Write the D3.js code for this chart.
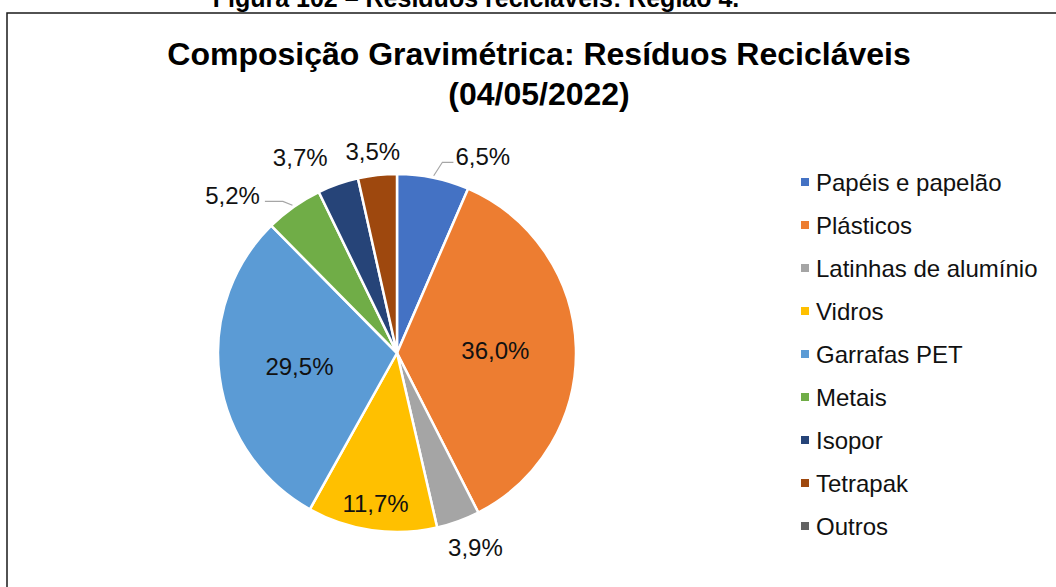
<!DOCTYPE html>
<html>
<head>
<meta charset="utf-8">
<script src="https://cdn.jsdelivr.net/npm/d3@7"></script>
<style>
  html, body { margin: 0; padding: 0; background: #fff; }
  svg { display: block; font-family: "Liberation Sans", Arial, sans-serif; }
</style>
</head>
<body>
<svg id="chart" width="1056" height="587"></svg>
<script>
'use strict';

const caption = 'Figura 102 – Resíduos recicláveis: Região 4.';
const titleLines = ['Composição Gravimétrica: Resíduos Recicláveis', '(04/05/2022)'];

const categories = [
  'Papéis e papelão',
  'Plásticos',
  'Latinhas de alumínio',
  'Vidros',
  'Garrafas PET',
  'Metais',
  'Isopor',
  'Tetrapak',
  'Outros',
];
const values = [6.5, 36.0, 3.9, 11.7, 29.5, 5.2, 3.7, 3.5, 0];
const colors = [
  '#4472C4', '#ED7D31', '#A5A5A5', '#FFC000', '#5B9BD5',
  '#70AD47', '#264478', '#9E480E', '#636363',
];

// labels that excel pushed away from their slice (px)
const labelNudge = {
  'Papéis e papelão': [41, 2],
  'Latinhas de alumínio': [3, 4],
  'Isopor': [-24, -4],
  'Metais': [-37, 8],
};

const W = 1056;
const H = 587;
const cx = 397;
const cy = 353;
const r = 179;

const ptBR = d3.formatLocale({
  decimal: ',',
  thousands: '.',
  grouping: [3],
  currency: ['R$', ''],
});
const fmt = (v) => ptBR.format('.1f')(v) + '%';

const svg = d3.select('#chart');

// page caption (cut off at the top)
svg
  .append('text')
  .attr('x', 476)
  .attr('y', 7)
  .attr('text-anchor', 'middle')
  .style('font-size', '25px')
  .style('font-weight', 'bold')
  .text(caption);

// chart border
svg
  .append('rect')
  .attr('x', 7)
  .attr('y', 13)
  .attr('width', W + 20)
  .attr('height', H + 20)
  .attr('fill', 'none')
  .attr('stroke', '#1a1a1a')
  .attr('stroke-width', 1.5);

svg
  .selectAll('.title')
  .data(titleLines)
  .enter()
  .append('text')
  .attr('class', 'title')
  .attr('x', 539)
  .attr('y', (d, i) => 65 + i * 40)
  .attr('text-anchor', 'middle')
  .style('font-size', '32px')
  .style('font-weight', 'bold')
  .style('fill', '#000')
  .text((d) => d);

const pie = d3
  .pie()
  .sort(null)
  .value((d) => d.value);

const data = categories.map((c, i) => ({ cat: c, value: values[i], color: colors[i] }));
const arcs = pie(data);

const arc = d3.arc().innerRadius(0).outerRadius(r);

const g = svg.append('g').attr('transform', `translate(${cx},${cy})`);

g.selectAll('path.slice')
  .data(arcs.filter((d) => d.data.value > 0))
  .enter()
  .append('path')
  .attr('class', 'slice')
  .attr('d', arc)
  .attr('fill', (d) => d.data.color)
  .attr('stroke', '#fff')
  .attr('stroke-width', 2.5)
  .attr('stroke-linejoin', 'round');

const labelSize = 24;
const labels = g.append('g').style('font-size', labelSize + 'px').style('fill', '#111');

arcs
  .filter((d) => d.data.value > 0)
  .forEach((d) => {
    const mid = (d.startAngle + d.endAngle) / 2;
    const text = fmt(d.data.value);
    const t = labels.append('text').attr('text-anchor', 'middle').attr('dy', '0.36em').text(text);
    const w = t.node().getComputedTextLength();
    const h = labelSize * 0.8;
    let x, y;
    if (d.data.value > 10) {
      const k = d.data.value > 20 ? 0.55 : 0.85;
      const inner = d3.arc().innerRadius(r * k).outerRadius(r * k);
      [x, y] = inner.centroid(d);
    } else {
      const px = Math.sin(mid) * r * 1.08;
      const py = -Math.cos(mid) * r * 1.08;
      x = px + (w / 2) * Math.sin(mid);
      y = py - (h / 2) * Math.cos(mid);
      const n = labelNudge[d.data.cat];
      if (n) {
        x += n[0];
        y += n[1];
        if (Math.hypot(n[0], n[1]) > 30) {
          const sx = Math.sin(mid) * (r + 2);
          const sy = -Math.cos(mid) * (r + 2);
          const right = x > sx;
          const edge = right ? x - w / 2 - 2 : x + w / 2 + 5;
          const ly = y + 6;
          const elbow = right ? edge - 11 : edge + 18;
          g.insert('path', 'g')
            .attr('d', `M${sx},${sy}L${elbow},${ly}L${edge},${ly}`)
            .attr('fill', 'none')
            .attr('stroke', '#A6A6A6')
            .attr('stroke-width', 1.2);
        }
      }
    }
    t.attr('x', x).attr('y', y);
  });

// legend
const ly = d3.scalePoint().domain(categories).range([182, 526]);
const legend = svg
  .append('g')
  .selectAll('g')
  .data(data)
  .enter()
  .append('g')
  .attr('transform', (d) => `translate(801,${ly(d.cat)})`);

legend
  .append('rect')
  .attr('x', 0)
  .attr('y', -4)
  .attr('width', 8)
  .attr('height', 8)
  .attr('fill', (d) => d.color);

legend
  .append('text')
  .attr('x', 15)
  .attr('dy', '0.36em')
  .style('font-size', '24px')
  .style('fill', '#111')
  .text((d) => d.cat);
</script>
</body>
</html>
